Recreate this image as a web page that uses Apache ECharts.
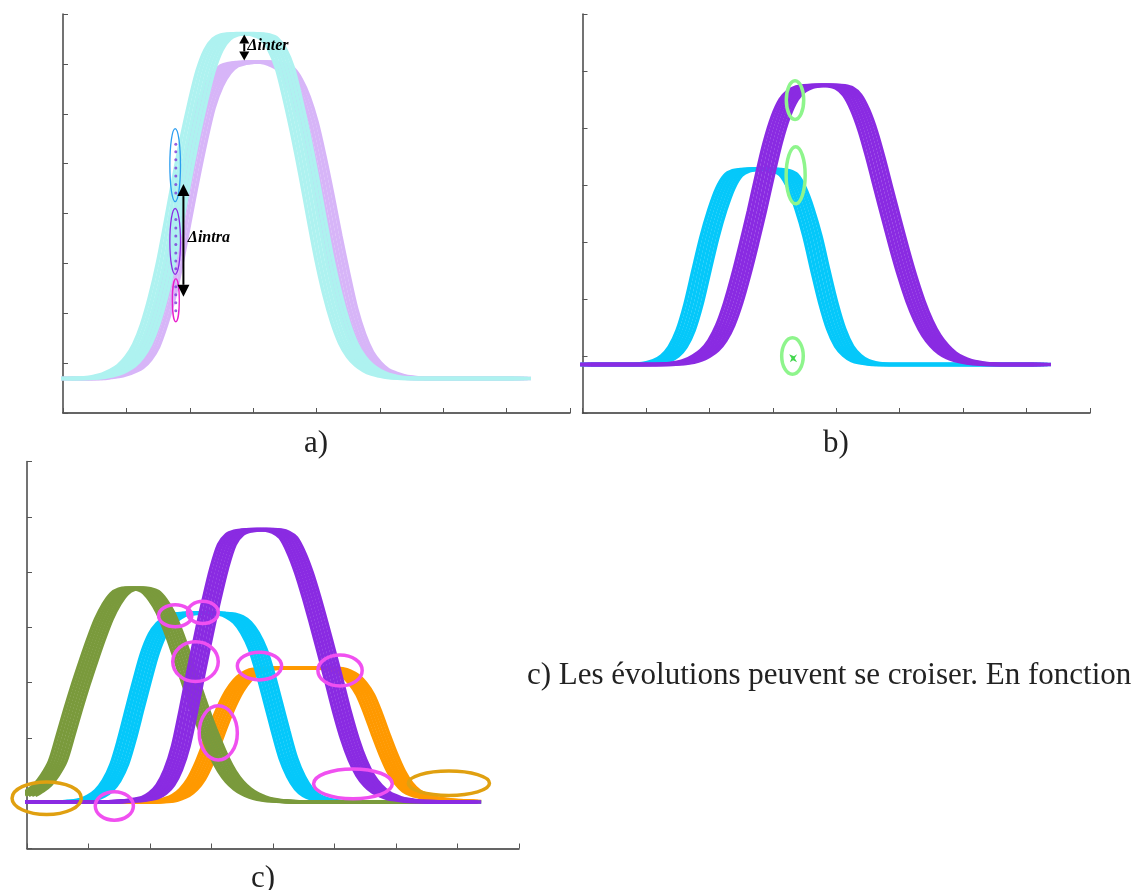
<!DOCTYPE html>
<html><head><meta charset="utf-8">
<script src="https://cdn.jsdelivr.net/npm/echarts@6/dist/echarts.min.js"></script>
<style>html,body{margin:0;padding:0;background:#fff}#main{width:1144px;height:890px}</style>
</head><body><div id="main"></div>
<script>
// ---------- sample positions along x (shared by all bands) ----------
const xs = [0,0.125,0.25,0.375,0.5,0.625,0.75,0.875,
            1,1.125,1.25,1.375,1.5,1.625,1.75,1.875,
            2,2.125,2.25,2.375,2.5,2.625,2.75,2.875,
            3,3.125,3.25,3.375,3.5,3.625,3.75,3.875,
            4,4.125,4.25,4.375,4.5,4.625,4.75,4.875,
            5,5.125,5.25,5.375,5.5,5.625,5.75,5.875,
            6,6.125,6.25,6.375,6.5,6.625,6.75,6.875,
            7,7.125,7.25];

// ---------- panel a) ----------
const aCyan = [0.69,0.69,0.69,0.70,0.71,0.74,0.78,0.85,
               0.95,1.12,1.38,1.78,2.33,3.01,3.84,4.70,
               5.51,6.23,6.86,7.28,7.50,7.58,7.60,7.61,
               7.60,7.58,7.51,7.30,6.92,6.29,5.57,4.77,
               3.91,3.08,2.38,1.82,1.40,1.13,0.96,0.85,
               0.78,0.74,0.71,0.70,0.69,0.69,0.69,0.69,
               0.69,0.69,0.69,0.69,0.69,0.69,0.69,0.69,
               0.69,0.69,0.69];
const aPurple = [0.69,0.69,0.69,0.69,0.69,0.71,0.73,0.77,
                 0.83,0.91,1.07,1.33,1.77,2.31,3.04,3.87,
                 4.69,5.45,6.12,6.55,6.82,6.96,7.01,7.03,
                 7.04,7.04,7.03,6.99,6.91,6.69,6.34,5.83,
                 5.14,4.37,3.55,2.79,2.09,1.58,1.22,1.01,
                 0.87,0.80,0.75,0.72,0.70,0.69,0.69,0.69,
                 0.69,0.69,0.69,0.69,0.69,0.69,0.69,0.69,
                 0.69,0.69,0.69];
const aEllipses = [[1.77,4.97,0.084,0.73],[1.77,3.44,0.084,0.66],[1.78,2.26,0.055,0.43]];
const aDots = [[1.78,5.39],[1.78,5.24],[1.78,5.08],[1.78,4.91],[1.78,4.75],[1.78,4.58],[1.78,4.41],
               [1.78,3.88],[1.78,3.71],[1.78,3.55],[1.78,3.38],[1.78,3.21],[1.78,3.05],[1.78,2.89],
               [1.78,2.53],[1.78,2.37],[1.78,2.21],[1.78,2.05]];
const aInterArrow = [[2.86,7.59,7.07]];
const aIntraArrow = [[1.90,4.59,2.33]];
const aLabels = [[2.91,7.36],[1.97,3.51]];
const aLabelTexts = ['\u0394inter','\u0394intra'];

// ---------- panel b) ----------
const bCyan = [0.85,0.85,0.85,0.85,0.85,0.85,0.85,0.85,
               0.86,0.88,0.92,1.00,1.16,1.45,1.91,2.50,
               3.08,3.56,3.94,4.17,4.25,4.27,4.28,4.28,
               4.27,4.25,4.18,3.95,3.58,3.10,2.50,1.93,
               1.47,1.17,1.01,0.92,0.88,0.86,0.85,0.85,
               0.85,0.85,0.85,0.85,0.85,0.85,0.85,0.85,
               0.85,0.85,0.85,0.85,0.85,0.85,0.85,0.85,
               0.85,0.85,0.85];
const bPurple = [0.85,0.85,0.85,0.85,0.85,0.85,0.85,0.85,
                 0.85,0.85,0.85,0.86,0.87,0.89,0.93,1.00,
                 1.10,1.27,1.54,1.93,2.42,2.97,3.55,4.17,
                 4.75,5.20,5.50,5.65,5.72,5.74,5.75,5.75,
                 5.74,5.70,5.58,5.32,4.94,4.45,3.91,3.38,
                 2.86,2.38,1.96,1.62,1.36,1.18,1.05,0.97,
                 0.92,0.89,0.87,0.86,0.85,0.85,0.85,0.85,
                 0.85,0.85,0.85];
const bEllipses = [[3.35,5.49,0.137,0.34],[3.36,4.17,0.15,0.50],[3.31,1.00,0.17,0.32]];
const bMark = [[3.32,0.96]];

// ---------- panel c) ----------
const cGreen = [0.96,1.04,1.15,1.33,1.58,2.04,2.52,2.97,
                3.39,3.79,4.15,4.42,4.61,4.69,4.71,4.70,
                4.65,4.50,4.27,3.94,3.55,3.13,2.72,2.33,
                1.98,1.66,1.40,1.21,1.08,0.99,0.93,0.89,
                0.87,0.86,0.85,0.84,0.84,0.84,0.84,0.84,
                0.84,0.84,0.84,0.84,0.84,0.84,0.84,0.84,
                0.84,0.84,0.84,0.84,0.84,0.84,0.84,0.84,
                0.84,0.84,0.84];
const cCyan = [0.84,0.84,0.84,0.84,0.84,0.84,0.85,0.86,
               0.89,0.95,1.05,1.23,1.52,1.98,2.52,3.05,
               3.54,3.88,4.07,4.18,4.24,4.25,4.26,4.26,
               4.26,4.25,4.24,4.19,4.09,3.90,3.61,3.17,
               2.65,2.12,1.63,1.30,1.08,0.96,0.90,0.87,
               0.85,0.84,0.84,0.84,0.84,0.84,0.84,0.84,
               0.84,0.84,0.84,0.84,0.84,0.84,0.84,0.84,
               0.84,0.84,0.84];
const cPurple = [0.84,0.84,0.84,0.84,0.84,0.84,0.84,0.84,
                 0.84,0.84,0.84,0.84,0.85,0.86,0.87,0.89,
                 0.92,1.00,1.15,1.42,1.85,2.50,3.20,3.87,
                 4.50,5.07,5.50,5.68,5.74,5.76,5.77,5.77,
                 5.76,5.72,5.62,5.36,5.00,4.55,4.05,3.53,
                 3.00,2.46,1.98,1.60,1.32,1.14,1.02,0.95,
                 0.90,0.88,0.86,0.85,0.85,0.84,0.84,0.84,
                 0.84,0.84,0.84];
const cOrange = [0.84,0.84,0.84,0.84,0.84,0.84,0.84,0.84,
                 0.84,0.84,0.84,0.84,0.84,0.84,0.84,0.84,
                 0.84,0.85,0.86,0.90,0.96,1.07,1.25,1.53,
                 1.88,2.25,2.58,2.85,3.04,3.16,3.23,3.25,
                 3.26,3.26,3.26,3.26,3.26,3.26,3.26,3.26,
                 3.25,3.21,3.13,2.99,2.78,2.45,2.07,1.71,
                 1.40,1.18,1.04,0.97,0.93,0.90,0.88,0.87,
                 0.86,0.86,0.85];
const cMagentaEllipses = [[1.42,0.77,0.31,0.257],[2.41,4.21,0.27,0.20],[2.86,4.27,0.25,0.20],[2.74,3.38,0.37,0.36],
                          [3.11,2.09,0.31,0.49],[3.78,3.30,0.36,0.25],[5.09,3.22,0.36,0.28],[5.30,1.17,0.64,0.27]];
const cGoldEllipses = [[0.32,0.91,0.563,0.295],[6.86,1.18,0.66,0.22]];

// horizontal offsets of the member curves inside each band
const memberShift = [-0.135,-0.081,-0.027,0.027,0.081,0.135];

// ---------- layout ----------
const grids = [
  {left:63, top:14, width:507, height:399},
  {left:582.5, top:14, width:507.5, height:399},
  {left:27, top:461.5, width:492, height:387}
];
const yMax = [8,7,7];
const xAxes = [], yAxes = [];
grids.forEach((g,gi)=>{
  xAxes.push({gridIndex:gi,type:'value',min:0,max:8,interval:1,
    axisLine:{show:true,onZero:false,lineStyle:{color:'#333',width:1.5}},
    axisTick:{show:true,inside:true,length:5,lineStyle:{color:'#555',width:1}},
    axisLabel:{show:false},splitLine:{show:false}});
  yAxes.push({gridIndex:gi,type:'value',min:0,max:yMax[gi],interval:1,
    axisLine:{show:true,onZero:false,lineStyle:{color:'#444',width:1.5}},
    axisTick:{show:true,inside:true,length:5,lineStyle:{color:'#555',width:1}},
    axisLabel:{show:false},splitLine:{show:false}});
});
const shiftAxes = grids.map((g,gi)=>memberShift.map(s=>{
  xAxes.push({gridIndex:gi,type:'value',show:false,min:-s,max:8-s});
  return xAxes.length-1;
}));

function band(gi, ys, color, lw){
  const pts = xs.map((x,i)=>[x,ys[i]]);
  return shiftAxes[gi].map(ax=>({type:'line',xAxisIndex:ax,yAxisIndex:gi,data:pts,
    symbol:'none',showSymbol:false,smooth:0.3,silent:true,
    lineStyle:{color:color,width:lw}}));
}
function ellipses(gi, data, colors, lw){
  return {type:'custom',xAxisIndex:gi,yAxisIndex:gi,data:data,silent:true,clip:false,z:5,
    renderItem:(p,api)=>{
      const c = api.coord([api.value(0),api.value(1)]);
      const s = api.size([api.value(2),api.value(3)]);
      return {type:'ellipse',shape:{cx:c[0],cy:c[1],rx:s[0],ry:s[1]},
        style:{fill:'none',stroke:colors[p.dataIndex % colors.length],lineWidth:lw}};
    }};
}
function arrow(gi, data, hw, hh){
  return {type:'custom',xAxisIndex:gi,yAxisIndex:gi,data:data,silent:true,clip:false,z:6,
    renderItem:(p,api)=>{
      const t = api.coord([api.value(0),api.value(1)]);
      const b = api.coord([api.value(0),api.value(2)]);
      return {type:'group',children:[
        {type:'line',shape:{x1:t[0],y1:t[1]+hh,x2:b[0],y2:b[1]-hh},style:{stroke:'#000',lineWidth:2}},
        {type:'polygon',shape:{points:[[t[0],t[1]],[t[0]-hw,t[1]+hh],[t[0]+hw,t[1]+hh]]},style:{fill:'#000'}},
        {type:'polygon',shape:{points:[[b[0],b[1]],[b[0]-hw,b[1]-hh],[b[0]+hw,b[1]-hh]]},style:{fill:'#000'}}
      ]};
    }};
}

const series = [].concat(
  band(0,aPurple,'#d7b5f8',3.5),
  band(0,aCyan,'#aef2f0',3.5),
  band(1,bCyan,'#05c8fa',3.5),
  band(1,bPurple,'#8a2be2',3.5),
  band(2,cOrange,'#ff9900',3.5),
  band(2,cCyan,'#05c8fa',3.5),
  band(2,cGreen,'#7a9a3c',3.5),
  band(2,cPurple,'#8a2be2',3.5),
  [
    ellipses(0,aEllipses,['#2a9df0','#8a2be2','#e81ccc'],1.3),
    {type:'scatter',xAxisIndex:0,yAxisIndex:0,data:aDots,symbol:'circle',symbolSize:3,silent:true,z:6,
      itemStyle:{color:'#7a3ad8'}},
    arrow(0,aInterArrow,5,9),
    arrow(0,aIntraArrow,6,12),
    {type:'custom',xAxisIndex:0,yAxisIndex:0,data:aLabels,silent:true,clip:false,z:7,
      renderItem:(p,api)=>{
        const c = api.coord([api.value(0),api.value(1)]);
        return {type:'text',x:c[0],y:c[1],style:{text:aLabelTexts[p.dataIndex],
          font:'italic bold 16px "Liberation Serif"',fill:'#000',align:'left',verticalAlign:'middle'}};
      }},
    ellipses(1,bEllipses,['#8ef58c'],3.5),
    {type:'scatter',xAxisIndex:1,yAxisIndex:1,data:bMark,silent:true,z:6,
      symbol:'path://M0 2L6 4L10 2L7 6L10 10L5 8L1 10L3 6Z',symbolSize:8,itemStyle:{color:'#14cc22'}},
    ellipses(2,cMagentaEllipses,['#f050f0'],3.5),
    ellipses(2,cGoldEllipses,['#e0a010'],3.5)
  ]
);

const capFont = '31px "Liberation Serif"';
const option = {
  animation:false,
  backgroundColor:'#fff',
  grid:grids,
  xAxis:xAxes,
  yAxis:yAxes,
  series:series,
  graphic:[
    {type:'text',x:316,y:444,style:{text:'a)',font:capFont,fill:'#222',align:'center',verticalAlign:'middle'}},
    {type:'text',x:836,y:444,style:{text:'b)',font:capFont,fill:'#222',align:'center',verticalAlign:'middle'}},
    {type:'text',x:263,y:879,style:{text:'c)',font:capFont,fill:'#222',align:'center',verticalAlign:'middle'}},
    {type:'text',x:527,y:676,style:{text:'c) Les \u00e9volutions peuvent se croiser. En fonction',font:capFont,fill:'#222',align:'left',verticalAlign:'middle'}}
  ]
};
const chart = echarts.init(document.getElementById('main'),null,{renderer:'canvas'});
chart.setOption(option);
</script>
</body></html>
